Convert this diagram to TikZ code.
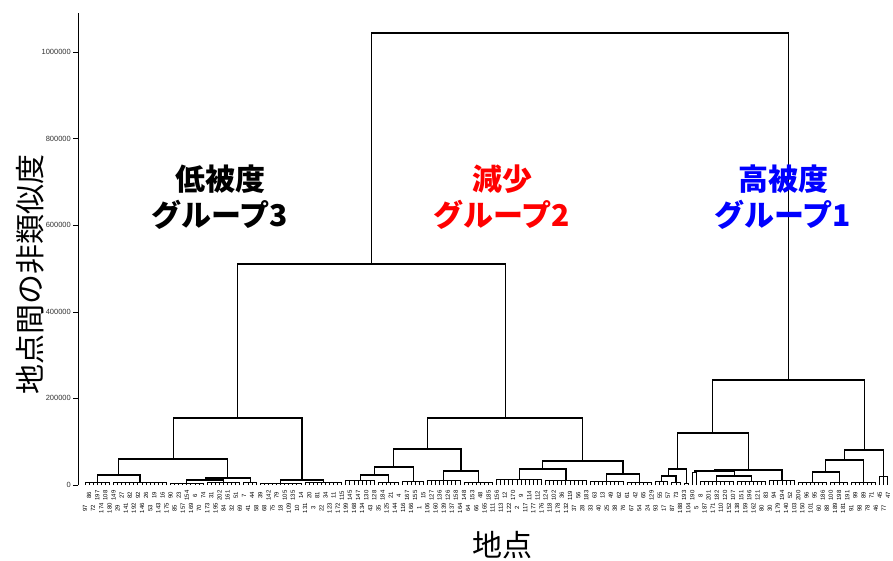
\documentclass[tikz,border=0pt]{standalone}
\usepackage{fontspec}
\setsansfont{Liberation Sans}
\newfontfamily\jpfont{Noto Sans CJK JP}
\usetikzlibrary{calc}

\begin{document}
\begin{tikzpicture}[x=1pt,y=-1pt,
	branch/.style={line width=1.1pt},
	twig/.style={line width=1pt},
	leaflabel/.style={font=\sffamily\fontsize{6}{6}\selectfont, rotate=90, inner sep=0pt},
	ticklabel/.style={font=\sffamily\fontsize{7.5}{8}\selectfont, anchor=east, inner sep=0pt, text=black!80},
	axistitle/.style={font=\jpfont\fontsize{30}{30}\selectfont, inner sep=0pt},
	grouplabel/.style={font=\jpfont\bfseries\fontsize{30}{36}\selectfont, align=center, inner sep=0pt}]
			\path[fill=white, use as bounding box] (0,0) rectangle (893,561);
			
			% axis
			\coordinate (ybot) at (78,485);
			\coordinate (ytop) at (78,13);
			\draw[line width=.8pt] (ybot) -- (ytop);
			\foreach \t/\lab in {0/0,1/200000,2/400000,3/600000,4/800000,5/1000000} {
				\coordinate (tk\t) at (78,{485-\t*86.6});
				\draw[line width=.6pt] (tk\t) -- ++(-5,0);
				\node[ticklabel] (tl\t) at ($(tk\t)+(-7,0)$) {\lab};
			}
			\node[axistitle, rotate=90] (ytitle) at (30,274) {地点間の非類似度};
			\node[axistitle] (xtitle) at (502,545) {地点};
			
			% leaves
			\foreach \i in {1,...,198}
				\coordinate (l\i) at ({85+(\i-1)*4.076},485);
			\foreach \lab [count=\i] in {97,86,72,197,174,108,180,149,29,27,141,82,192,92,146,26,53,19,143,16,
				175,90,85,23,157,154,169,6,70,74,173,31,195,202,84,161,32,51,69,7,41,44,58,39,68,142,75,79,18,105,
				109,135,10,14,131,20,3,81,22,34,123,11,172,115,199,145,168,147,134,130,43,128,35,184,125,21,144,4,
				116,167,166,155,1,15,106,127,160,136,139,126,137,158,164,148,64,153,66,48,165,185,111,156,113,12,
				122,170,2,9,117,114,177,112,176,124,118,102,178,36,132,119,37,56,28,183,33,63,40,13,25,49,38,62,
				76,61,67,42,54,65,24,129,93,55,17,57,87,73,188,193,104,190,5,8,187,201,171,182,110,120,152,107,
				138,151,159,196,162,121,80,83,30,94,179,194,140,52,103,200,150,96,101,95,60,186,88,100,189,198,
				181,191,91,99,98,89,78,71,46,45,77,47} {
				\pgfmathsetmacro\ly{ifthenelse(mod(\i,2)==1,508,495.5)}
				\node[leaflabel] (t\i) at (l\i |- 0,\ly) {\lab};
			}
			
			% lowest clusters
			\foreach \nm/\a/\b/\h in {c1/1/7/482, c2/8/21/482, c3/22/30/483, c4/31/39/482, c5/40/43/482,
				c6/44/54/483, c7/55/64/482, c8/65/72/480, c9/73/78/482, c10/79/84/481, c11/85/93/480,
				c12/94/101/482, c13/102/113/479, c14/114/124/480, c15/125/133/481, c16/134/140/482,
				c17/141/144/481, c18/145/147/482, c19/148/149/483, c20/150/151/472, c21/152/160/481,
				c22/161/168/481, c23/169/175/480, c24/176/183/482, c25/184/188/482, c26/189/195/482,
				c27/196/198/476} {
				\coordinate (\nm) at ($(l\a)!.5!(l\b)+(0,{\h-485})$);
				\foreach \j in {\a,...,\b}
					\draw[twig] (l\j) -- (l\j |- \nm);
				\draw[twig] (l\a |- \nm) -- (l\b |- \nm);
			}
			
			% merges
			\foreach \p/\x/\y/\u/\v in {a1/118.6/475/c1/c2, a2a/205.3/480/c3/c4, a2/227.7/478/a2a/c5,
				a/173.2/459/a1/a2, b/302/480/c6/c7, ll/237.6/418/a/b, d1/374.4/475/c8/c9, d/393.8/467/d1/c10,
				e/461/471/c11/c12, lra/427.4/449/d/e, f/542.6/469/c13/c14, g/623/474/c15/c16,
				lrb/582.8/461/f/g, lr/505.1/418/lra/lrb, left/371.4/264/ll/lr,
				h1/668.9/476/c17/c18, h/677.6/469/h1/c19, k1/734.1/476/c21/c22, k/714.3/471/c20/k1,
				m/748.2/470/k/c23, rl/712.9/433/h/m, n1/825.9/472/c24/c25, n/844.7/460/n1/c26,
				rr/864.3/450/n/c27, right/788.6/380/rl/rr, root/580/33/left/right} {
				\coordinate (\p) at (\x,\y);
				\draw[branch] (\u) |- (\p) -| (\v);
			}
			
			% groups
			\node[grouplabel] (grp3) at (220,197) {低被度\\グループ3};
			\node[grouplabel, text=red] (grp2) at (502,197) {減少\\グループ2};
			\node[grouplabel, text=blue] (grp1) at (783,197) {高被度\\グループ1};
			
\end{tikzpicture}
\end{document}
